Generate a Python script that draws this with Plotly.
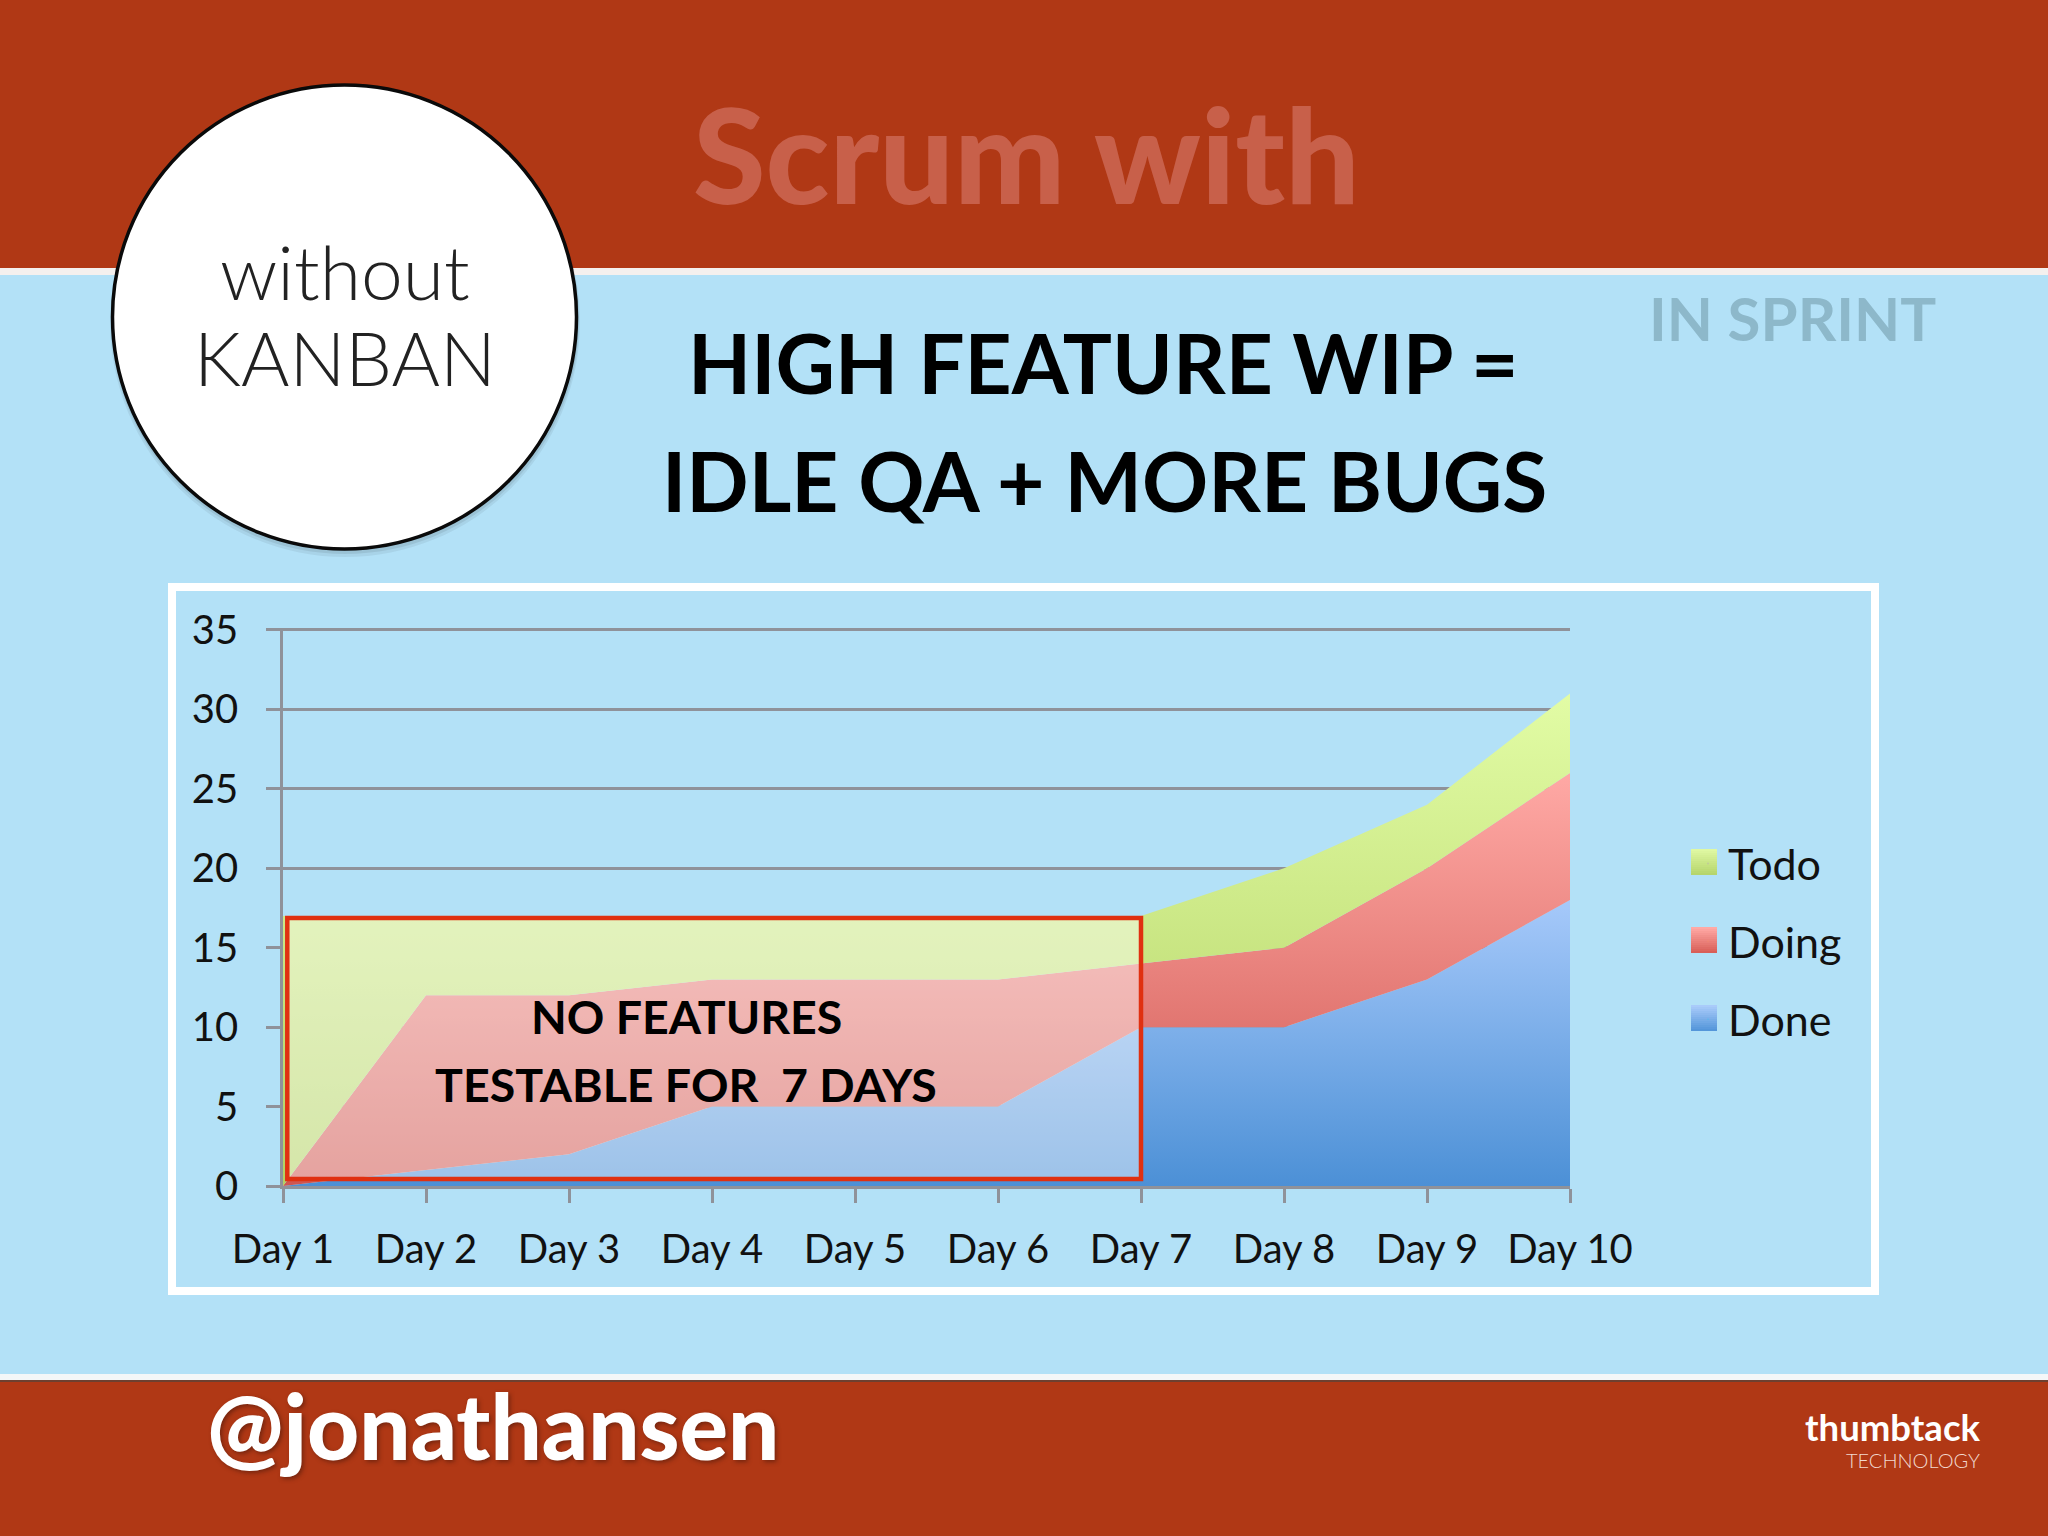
import plotly.graph_objects as go

# ---------- data ----------
days = ["Day 1", "Day 2", "Day 3", "Day 4", "Day 5", "Day 6", "Day 7", "Day 8", "Day 9", "Day 10"]
done = [0, 1, 2, 5, 5, 5, 10, 10, 13, 18]
doing = [0, 11, 10, 8, 8, 8, 4, 5, 7, 8]
todo = [17, 5, 5, 4, 4, 4, 3, 5, 4, 5]
y_ticks = [0, 5, 10, 15, 20, 25, 30, 35]

W, H = 2048, 1536
BG = "#b3e1f7"
RUST = "#b03815"
GREY = "#8f929a"


def px(x):
    return x / W


def py(y):
    return 1 - y / H


def rect(x0, y0, x1, y1, fill, layer="below", line=None):
    return dict(type="rect", xref="paper", yref="paper", x0=px(x0), x1=px(x1), y0=py(y0), y1=py(y1),
                fillcolor=fill, line=line or dict(width=0), layer=layer)


def circle(cx, cy, r, fill, line=None):
    return dict(type="circle", xref="paper", yref="paper", x0=px(cx - r), x1=px(cx + r), y0=py(cy + r), y1=py(cy - r),
                fillcolor=fill, line=line or dict(width=0), layer="below")


def text(s, x, y, size, color, weight=400, anchor="center", family="Lato", shadow=None):
    f = dict(family=family, size=size, color=color, weight=weight)
    if shadow:
        f["shadow"] = shadow
    return dict(text=s, xref="paper", yref="paper", x=px(x), y=py(y), xanchor=anchor, yanchor="middle",
                showarrow=False, font=f)


def hexrgb(h):
    return [int(h[i:i + 2], 16) for i in (1, 3, 5)]


def swatch(x0, y0, x1, y1, top, bottom, n=13):
    a, b = hexrgb(top), hexrgb(bottom)
    out = []
    for i in range(n):
        t = i / (n - 1)
        c = [round(a[k] + (b[k] - a[k]) * t) for k in range(3)]
        out.append(rect(x0, y0 + (y1 - y0) * i / n, x1, y0 + (y1 - y0) * (i + 1) / n, f"rgb({c[0]},{c[1]},{c[2]})"))
    return out


fig = go.Figure()


def area(values, name, top, bottom):
    fig.add_trace(go.Scatter(
        x=days, y=values, name=name, mode="none", stackgroup="one", showlegend=False,
        fill="tonexty",
        fillgradient=dict(type="vertical", colorscale=[[0, bottom], [1, top]]),
    ))


area(done, "Done", "#a6c9fa", "#4c90d6")
area(doing, "Doing", "#ffa9a5", "#cf5650")
area(todo, "Todo", "#e2fca5", "#b2d163")

for name in ["Todo", "Doing", "Done"]:
    fig.add_trace(go.Scatter(x=[None], y=[None], name=name, mode="markers", legendgroup=name,
                             marker=dict(size=1, opacity=0)))

shapes = [
    rect(0, 0, W, 268, RUST),
    rect(0, 268, W, 275, "#f4f0ee"),
    rect(0, 1374, W, 1380, "#f4f7f8"),
    rect(0, 1380, W, H, RUST),
    rect(0, 1380, W, 1382, "#6e4030"),
    rect(172, 587, 1875, 1291, BG, line=dict(color="white", width=8)),
    circle(345, 322, 235, "rgba(0,0,0,0.06)"),
    circle(345, 320, 234, "rgba(0,0,0,0.08)"),
    circle(344.5, 317, 232, "white", dict(color="#0a0a0a", width=3.5)),
]
shapes += swatch(1691, 849, 1717, 875, "#dff8a2", "#b6d56c")
shapes += swatch(1691, 927, 1717, 953, "#ffa9a5", "#d95f58")
shapes += swatch(1691, 1005, 1717, 1031, "#a9cbfa", "#5496da")
# overlay box in chart coordinates
shapes.append(dict(type="rect", xref="x", yref="y", x0=0.03, x1=6, y0=0.44, y1=16.87,
                   fillcolor="rgba(255,255,255,0.45)", line=dict(color="#e03010", width=4.5), layer="above"))

annotations = [
    text("Scrum with", 1026, 153, 132, "#c8604a", 900),
    text("IN SPRINT", 1792, 318, 60, "#8db8ca", 700),
    text("HIGH FEATURE WIP =", 1103, 362, 82, "#000000", 700),
    text("IDLE QA + MORE BUGS", 1104, 480, 82, "#000000", 700),
    text("without", 345, 271, 75, "#222222", 300),
    text("KANBAN", 345, 358, 74, "#222222", 300),
    text("NO FEATURES", 686, 1016, 46.5, "#000000", 700),
    text("TESTABLE FOR  7 DAYS", 686, 1084, 46.5, "#000000", 700),
    text("@jonathansen", 493, 1425, 90.5, "#ffffff", 900, shadow="2px 2px 4px rgba(60,20,10,0.5)"),
    text("thumbtack", 1982, 1427, 36.5, "#ffffff", 700, anchor="right"),
    text("TECHNOLOGY", 1982, 1460, 20, "#f2d8cf", 300, anchor="right"),
]

fig.update_layout(
    width=W, height=H, autosize=False,
    margin=dict(l=0, r=0, t=0, b=0, pad=0, autoexpand=False),
    paper_bgcolor=BG, plot_bgcolor="rgba(0,0,0,0)",
    font=dict(family="Lato", size=40, color="#111111"),
    shapes=shapes, annotations=annotations,
    hovermode=False,
    legend=dict(x=px(1688), y=py(829), xanchor="left", yanchor="top", bgcolor="rgba(0,0,0,0)",
                font=dict(family="Lato", size=43, color="#111111"), tracegroupgap=19, itemclick=False),
    xaxis=dict(domain=[px(283), px(1570)], type="category", categoryorder="array", categoryarray=days,
               range=[0, 9], dtick=1, showgrid=False, zeroline=False, ticklabelstandoff=12,
               showline=True, linecolor=GREY, linewidth=2.5, ticks="outside", ticklen=14, tickwidth=2.5, tickcolor=GREY,
               tickfont=dict(family="Lato", size=40, color="#111111")),
    yaxis=dict(domain=[py(1186), py(627.6)], range=[0, 35.15], tickmode="array", tickvals=y_ticks,
               showgrid=True, gridcolor=GREY, gridwidth=2.5, zeroline=False, ticklabelstandoff=20,
               showline=True, linecolor=GREY, linewidth=2.5, ticks="outside", ticklen=14, tickwidth=2.5, tickcolor=GREY,
               tickfont=dict(family="Lato", size=40, color="#111111")),
)

fig.write_html("out.html", config={"displayModeBar": False},
               post_script="document.body.style.margin='0';document.body.style.overflow='hidden';")
